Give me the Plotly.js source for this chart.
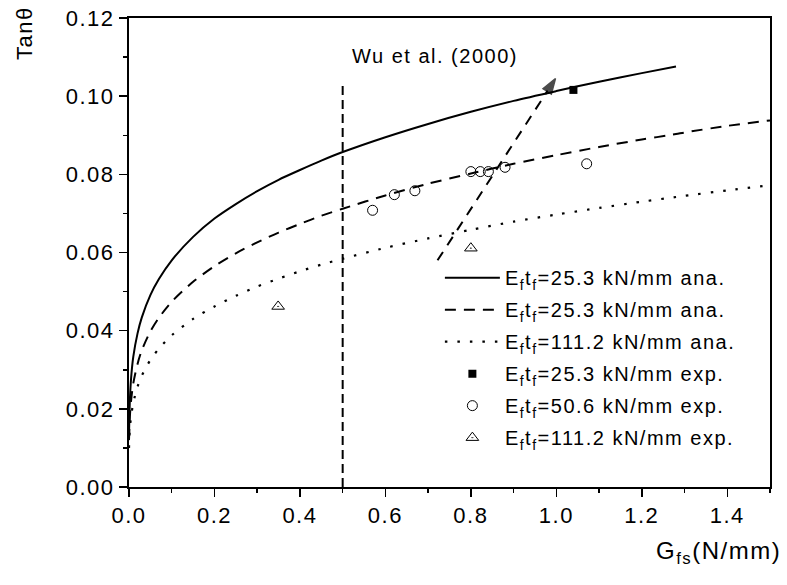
<!DOCTYPE html>
<html>
<head>
<meta charset="utf-8">
<script src="https://cdn.plot.ly/plotly-3.0.1.min.js"></script>
<style>
html,body{margin:0;padding:0;background:#fff;}
#chart{width:787px;height:585px;}
svg text{letter-spacing:1.5px;}
</style>
</head>
<body>
<div id="chart"></div>
<script>
// Analytical curves
const anaX   = [0, 0.002, 0.005, 0.01, 0.02, 0.03, 0.05, 0.07, 0.1, 0.15, 0.2, 0.25, 0.3, 0.35, 0.4, 0.45, 0.5, 0.6, 0.7, 0.8, 0.9, 1.0, 1.1, 1.2, 1.28, 1.3, 1.4, 1.5];
const solidY = [0.013, 0.022, 0.028, 0.0333, 0.0393, 0.0434, 0.0491, 0.0532, 0.058, 0.064, 0.0687, 0.0724, 0.0757, 0.0786, 0.0811, 0.0835, 0.0857, 0.0895, 0.0929, 0.096, 0.0988, 0.1013, 0.1037, 0.1059, 0.1076, null, null, null];
const dashY  = [0.012, 0.018, 0.0222, 0.0265, 0.0315, 0.035, 0.0398, 0.0433, 0.0474, 0.0525, 0.0565, 0.0598, 0.0626, 0.0651, 0.0673, 0.0694, 0.0712, 0.0746, 0.0776, 0.0802, 0.0827, 0.0849, 0.087, 0.0889, 0.0903, 0.0907, 0.0924, 0.0938];
const dotY   = [0.010, 0.015, 0.0181, 0.0215, 0.0257, 0.0285, 0.0325, 0.0354, 0.0388, 0.043, 0.0462, 0.0489, 0.0513, 0.0533, 0.0552, 0.0569, 0.0584, 0.0612, 0.0636, 0.0658, 0.0679, 0.0697, 0.0714, 0.073, 0.0742, 0.0745, 0.0759, 0.0772];

// Experimental points
const exp253X = [1.04];
const exp253Y = [0.1016];
const exp506X = [0.57, 0.621, 0.669, 0.80, 0.822, 0.841, 0.88, 1.071];
const exp506Y = [0.0708, 0.0748, 0.0758, 0.0807, 0.0807, 0.0807, 0.0818, 0.0827];
const exp1112X = [0.349, 0.80];
const exp1112Y = [0.0462, 0.0611];

// Wu et al. (2000) limit line and trend arrow
const wuX = [0.5, 0.5];
const wuY = [0, 0.1035];
const arrowX = [0.722, 0.998];
const arrowY = [0.058, 0.1045];

// Labels
const legendNames = [
  'E<sub>f</sub>t<sub>f</sub>=25.3 kN/mm ana.',
  'E<sub>f</sub>t<sub>f</sub>=25.3 kN/mm ana.',
  'E<sub>f</sub>t<sub>f</sub>=111.2 kN/mm ana.',
  'E<sub>f</sub>t<sub>f</sub>=25.3 kN/mm exp.',
  'E<sub>f</sub>t<sub>f</sub>=50.6 kN/mm exp.',
  'E<sub>f</sub>t<sub>f</sub>=111.2 kN/mm exp.'
];
const xTitle = 'G<sub>fs</sub>(N/mm)';
const yTitle = 'Tanθ';
const wuLabel = 'Wu et al. (2000)';

const FONT = 'Liberation Sans, Arial, sans-serif';

const traces = [
  {x: anaX, y: solidY, mode: 'lines', name: legendNames[0], legendgroup: 'g1', line: {color: '#000', width: 2, shape: 'spline', smoothing: 0.8}},
  {x: anaX, y: dashY, mode: 'lines', name: legendNames[1], legendgroup: 'g2', line: {color: '#000', width: 2, dash: '11px,8px', shape: 'spline', smoothing: 0.8}},
  {x: anaX, y: dotY, mode: 'lines', name: legendNames[2], legendgroup: 'g3', line: {color: '#000', width: 2.2, dash: '2.5px,10px', shape: 'spline', smoothing: 0.8}},
  {x: exp253X, y: exp253Y, mode: 'markers', name: legendNames[3], legendgroup: 'g4', marker: {symbol: 'square', size: 8, color: '#000'}},
  {x: exp506X, y: exp506Y, mode: 'markers', name: legendNames[4], legendgroup: 'g5', marker: {symbol: 'circle-open', size: 10, color: '#000', line: {width: 1}}},
  {x: exp1112X, y: exp1112Y, mode: 'markers', name: legendNames[5], legendgroup: 'g6', marker: {symbol: 'triangle-up-open-dot', size: 11, color: '#000', line: {width: 1}}},
  {x: wuX, y: wuY, mode: 'lines', showlegend: false, line: {color: '#000', width: 2, dash: '9px,5px'}},
  {x: arrowX, y: arrowY, mode: 'lines+markers', showlegend: false, line: {color: '#000', width: 2, dash: '10px,8px'},
   marker: {symbol: 'arrow', size: [0, 16], color: '#000', angleref: 'previous', line: {width: 1.5, color: '#000'}}}
];

const layout = {
  width: 787, height: 585,
  margin: {l: 129, r: 17, t: 18, b: 98},
  paper_bgcolor: '#fff', plot_bgcolor: '#fff',
  font: {family: FONT, color: '#000', size: 20},
  showlegend: true,
  legend: {x: 0.485, y: 0.488, xanchor: 'left', yanchor: 'top', bgcolor: 'rgba(0,0,0,0)',
           font: {family: FONT, size: 20, color: '#000'}, itemwidth: 55, tracegroupgap: 3},
  xaxis: {range: [0, 1.5], dtick: 0.2, tick0: 0, tickformat: '.1f', showgrid: false, zeroline: false,
          showline: true, linecolor: '#000', linewidth: 2, mirror: true,
          ticks: 'outside', ticklen: 8, tickwidth: 1.5, tickcolor: '#000',
          tickfont: {family: FONT, size: 22, color: '#000'},
          minor: {dtick: 0.1, ticks: 'outside', ticklen: 4, tickwidth: 1.5, tickcolor: '#000'}},
  yaxis: {range: [0, 0.12], dtick: 0.02, tick0: 0, tickformat: '.2f', showgrid: false, zeroline: false,
          showline: true, linecolor: '#000', linewidth: 2, mirror: true,
          ticks: 'outside', ticklen: 8, tickwidth: 1.5, tickcolor: '#000',
          tickfont: {family: FONT, size: 22, color: '#000'},
          minor: {dtick: 0.01, ticks: 'outside', ticklen: 4, tickwidth: 1.5, tickcolor: '#000'}},
  annotations: [
    {text: wuLabel, x: 0.716, y: 0.1103, xref: 'x', yref: 'y', showarrow: false,
     xanchor: 'center', yanchor: 'middle', font: {family: FONT, size: 20, color: '#000'}},
    {text: yTitle, x: -0.164, y: 0.968, xref: 'paper', yref: 'paper', showarrow: false, textangle: -90,
     xanchor: 'center', yanchor: 'middle', font: {family: FONT, size: 22, color: '#000'}},
    {text: xTitle, x: 1.02, y: -0.14, xref: 'paper', yref: 'paper', showarrow: false,
     xanchor: 'right', yanchor: 'middle', font: {family: FONT, size: 24, color: '#000'}}
  ]
};

Plotly.newPlot('chart', traces, layout, {staticPlot: true, displayModeBar: false});
</script>
</body>
</html>
